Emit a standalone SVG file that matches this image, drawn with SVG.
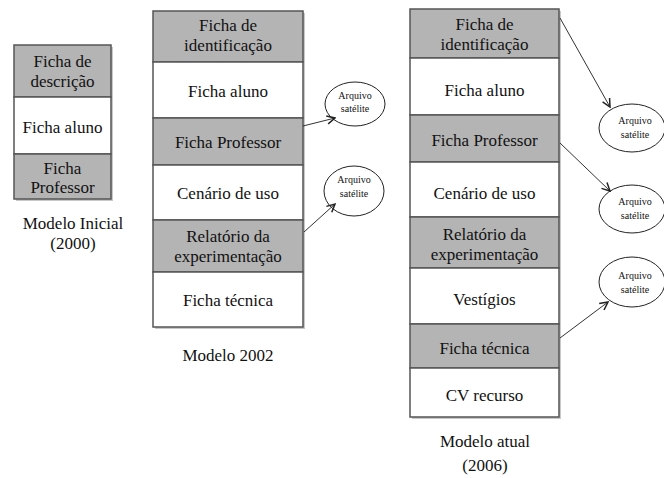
<svg xmlns="http://www.w3.org/2000/svg" width="664" height="478" viewBox="0 0 664 478">
<style>
  .g { fill: #b4b4b4; stroke: #555; stroke-width: 1.5; }
  .w { fill: #ffffff; stroke: #555; stroke-width: 1.5; }
  .sh { fill: #c8c8c8; stroke: none; }
  .t { font-family: "Liberation Serif", "Times New Roman", serif; font-size: 17px; fill: #111; text-anchor: middle; }
  .s { font-family: "Liberation Serif", "Times New Roman", serif; font-size: 10px; fill: #111; text-anchor: middle; }
  .e { fill: #ffffff; stroke: #222; stroke-width: 1; }
  .c { stroke: #333; stroke-width: 1; fill: none; marker-end: url(#arr); }
</style>
<defs>
  <marker id="arr" viewBox="0 0 10 10" refX="9" refY="5" markerWidth="10" markerHeight="10" markerUnits="userSpaceOnUse" orient="auto">
    <path d="M1,1 L9,5 L1,9" fill="none" stroke="#222" stroke-width="1.5"/>
  </marker>
</defs>
<rect width="664" height="478" fill="#ffffff"/>

<!-- shadows -->
<rect class="sh" x="16" y="47" width="97" height="154"/>
<rect class="sh" x="155" y="13" width="150" height="316"/>
<rect class="sh" x="412" y="11" width="149" height="408"/>

<!-- Modelo Inicial -->
<g id="m2000-descricao"><rect class="g" x="14" y="45" width="97" height="52"/>
  <text class="t" x="62.5" y="67">Ficha de</text><text class="t" x="62.5" y="87">descrição</text></g>
<g id="m2000-aluno"><rect class="w" x="14" y="97" width="97" height="57"/>
  <text class="t" x="62.5" y="133">Ficha aluno</text></g>
<g id="m2000-professor"><rect class="g" x="14" y="154" width="97" height="45"/>
  <text class="t" x="62.5" y="174">Ficha</text><text class="t" x="62.5" y="193">Professor</text></g>
<text class="t" x="73" y="229">Modelo Inicial</text>
<text class="t" x="73" y="249">(2000)</text>

<!-- Modelo 2002 -->
<g id="m2002-identificacao"><rect class="g" x="153" y="11" width="150" height="51"/>
  <text class="t" x="228" y="31">Ficha de</text><text class="t" x="228" y="51">identificação</text></g>
<g id="m2002-aluno"><rect class="w" x="153" y="62" width="150" height="56"/>
  <text class="t" x="228" y="97">Ficha aluno</text></g>
<g id="m2002-professor"><rect class="g" x="153" y="118" width="150" height="47"/>
  <text class="t" x="228" y="148">Ficha Professor</text></g>
<g id="m2002-cenario"><rect class="w" x="153" y="165" width="150" height="55"/>
  <text class="t" x="228" y="199">Cenário de uso</text></g>
<g id="m2002-relatorio"><rect class="g" x="153" y="220" width="150" height="52"/>
  <text class="t" x="228" y="242">Relatório da</text><text class="t" x="228" y="262">experimentação</text></g>
<g id="m2002-tecnica"><rect class="w" x="153" y="272" width="150" height="55"/>
  <text class="t" x="228" y="306">Ficha técnica</text></g>
<text class="t" x="228" y="361">Modelo 2002</text>

<g id="m2002-sat1"><ellipse class="e" cx="355" cy="104" rx="30" ry="22"/>
  <text class="s" x="355" y="99">Arquivo</text><text class="s" x="355" y="112">satélite</text></g>
<g id="m2002-sat2"><ellipse class="e" cx="354" cy="191" rx="30" ry="25"/>
  <text class="s" x="354" y="183">Arquivo</text><text class="s" x="354" y="197">satélite</text></g>

<!-- Modelo atual -->
<g id="m2006-identificacao"><rect class="g" x="410" y="9" width="149" height="49"/>
  <text class="t" x="484.5" y="30">Ficha de</text><text class="t" x="484.5" y="50">identificação</text></g>
<g id="m2006-aluno"><rect class="w" x="410" y="58" width="149" height="57"/>
  <text class="t" x="484.5" y="96">Ficha aluno</text></g>
<g id="m2006-professor"><rect class="g" x="410" y="115" width="149" height="47"/>
  <text class="t" x="484.5" y="146">Ficha Professor</text></g>
<g id="m2006-cenario"><rect class="w" x="410" y="162" width="149" height="55"/>
  <text class="t" x="484.5" y="199">Cenário de uso</text></g>
<g id="m2006-relatorio"><rect class="g" x="410" y="217" width="149" height="51"/>
  <text class="t" x="484.5" y="240">Relatório da</text><text class="t" x="484.5" y="260">experimentação</text></g>
<g id="m2006-vestigios"><rect class="w" x="410" y="268" width="149" height="56"/>
  <text class="t" x="484.5" y="305">Vestígios</text></g>
<g id="m2006-tecnica"><rect class="g" x="410" y="324" width="149" height="44"/>
  <text class="t" x="484.5" y="354">Ficha técnica</text></g>
<g id="m2006-cv"><rect class="w" x="410" y="368" width="149" height="49"/>
  <text class="t" x="484.5" y="401">CV recurso</text></g>
<text class="t" x="485" y="447">Modelo atual</text>
<text class="t" x="485" y="471">(2006)</text>

<g id="m2006-sat1"><ellipse class="e" cx="632" cy="128" rx="33" ry="24"/>
  <text class="s" x="635" y="124">Arquivo</text><text class="s" x="635" y="138">satélite</text></g>
<g id="m2006-sat2"><ellipse class="e" cx="632" cy="209" rx="33" ry="24"/>
  <text class="s" x="635" y="205">Arquivo</text><text class="s" x="635" y="219">satélite</text></g>
<g id="m2006-sat3"><ellipse class="e" cx="632" cy="282" rx="33" ry="25"/>
  <text class="s" x="635" y="279">Arquivo</text><text class="s" x="635" y="293">satélite</text></g>

<!-- connectors -->
<g id="connectors">
  <line class="c" x1="303" y1="126" x2="335" y2="118"/>
  <line class="c" x1="304" y1="232" x2="335" y2="204"/>
  <line class="c" x1="560" y1="18" x2="610" y2="107"/>
  <line class="c" x1="560" y1="143" x2="610" y2="191"/>
  <line class="c" x1="560" y1="338" x2="608" y2="302"/>
</g>
</svg>
